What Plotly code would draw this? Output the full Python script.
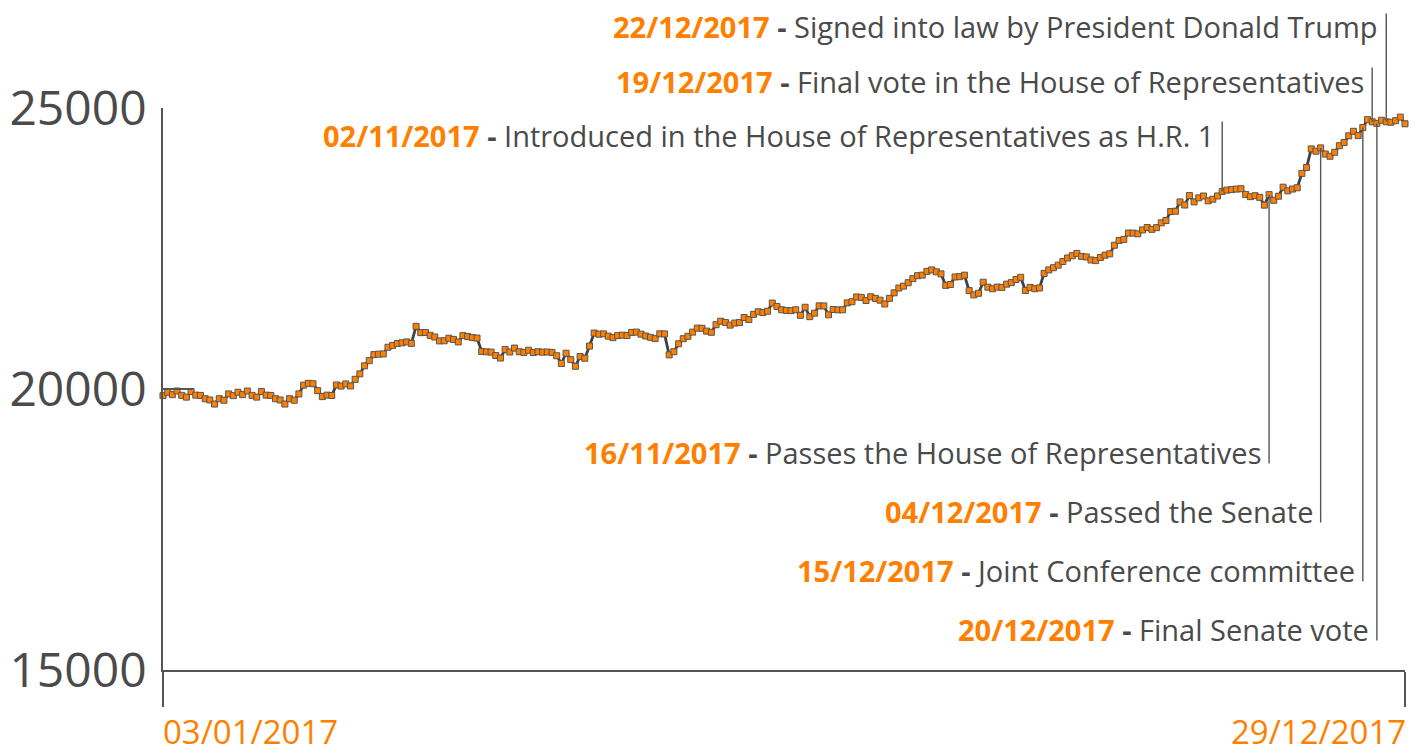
import plotly.graph_objects as go

# ---- data (series as plotted: the first 15 January sessions appear twice) ----
dates = (
    ["03/01/2017", "04/01/2017", "05/01/2017", "06/01/2017", "09/01/2017", "10/01/2017", "11/01/2017",
     "12/01/2017", "13/01/2017", "17/01/2017", "18/01/2017", "19/01/2017", "20/01/2017", "23/01/2017",
     "24/01/2017"] * 2
    + ["25/01/2017", "26/01/2017", "27/01/2017", "30/01/2017", "31/01/2017",
       "01/02/2017", "02/02/2017", "03/02/2017", "06/02/2017", "07/02/2017", "08/02/2017", "09/02/2017",
       "10/02/2017", "13/02/2017", "14/02/2017", "15/02/2017", "16/02/2017", "17/02/2017", "21/02/2017",
       "22/02/2017", "23/02/2017", "24/02/2017", "27/02/2017", "28/02/2017",
       "01/03/2017", "02/03/2017", "03/03/2017", "06/03/2017", "07/03/2017", "08/03/2017", "09/03/2017",
       "10/03/2017", "13/03/2017", "14/03/2017", "15/03/2017", "16/03/2017", "17/03/2017", "20/03/2017",
       "21/03/2017", "22/03/2017", "23/03/2017", "24/03/2017", "27/03/2017", "28/03/2017", "29/03/2017",
       "30/03/2017", "31/03/2017",
       "03/04/2017", "04/04/2017", "05/04/2017", "06/04/2017", "07/04/2017", "10/04/2017", "11/04/2017",
       "12/04/2017", "13/04/2017", "17/04/2017", "18/04/2017", "19/04/2017", "20/04/2017", "21/04/2017",
       "24/04/2017", "25/04/2017", "26/04/2017", "27/04/2017", "28/04/2017",
       "01/05/2017", "02/05/2017", "03/05/2017", "04/05/2017", "05/05/2017", "08/05/2017", "09/05/2017",
       "10/05/2017", "11/05/2017", "12/05/2017", "15/05/2017", "16/05/2017", "17/05/2017", "18/05/2017",
       "19/05/2017", "22/05/2017", "23/05/2017", "24/05/2017", "25/05/2017", "26/05/2017", "30/05/2017",
       "31/05/2017",
       "01/06/2017", "02/06/2017", "05/06/2017", "06/06/2017", "07/06/2017", "08/06/2017", "09/06/2017",
       "12/06/2017", "13/06/2017", "14/06/2017", "15/06/2017", "16/06/2017", "19/06/2017", "20/06/2017",
       "21/06/2017", "22/06/2017", "23/06/2017", "26/06/2017", "27/06/2017", "28/06/2017", "29/06/2017",
       "30/06/2017",
       "03/07/2017", "05/07/2017", "06/07/2017", "07/07/2017", "10/07/2017", "11/07/2017", "12/07/2017",
       "13/07/2017", "14/07/2017", "17/07/2017", "18/07/2017", "19/07/2017", "20/07/2017", "21/07/2017",
       "24/07/2017", "25/07/2017", "26/07/2017", "27/07/2017", "28/07/2017", "31/07/2017",
       "01/08/2017", "02/08/2017", "03/08/2017", "04/08/2017", "07/08/2017", "08/08/2017", "09/08/2017",
       "10/08/2017", "11/08/2017", "14/08/2017", "15/08/2017", "16/08/2017", "17/08/2017", "18/08/2017",
       "21/08/2017", "22/08/2017", "23/08/2017", "24/08/2017", "25/08/2017", "28/08/2017", "29/08/2017",
       "30/08/2017", "31/08/2017",
       "01/09/2017", "05/09/2017", "06/09/2017", "07/09/2017", "08/09/2017", "11/09/2017", "12/09/2017",
       "13/09/2017", "14/09/2017", "15/09/2017", "18/09/2017", "19/09/2017", "20/09/2017", "21/09/2017",
       "22/09/2017", "25/09/2017", "26/09/2017", "27/09/2017", "28/09/2017", "29/09/2017",
       "02/10/2017", "03/10/2017", "04/10/2017", "05/10/2017", "06/10/2017", "09/10/2017", "10/10/2017",
       "11/10/2017", "12/10/2017", "13/10/2017", "16/10/2017", "17/10/2017", "18/10/2017", "19/10/2017",
       "20/10/2017", "23/10/2017", "24/10/2017", "25/10/2017", "26/10/2017", "27/10/2017", "30/10/2017",
       "31/10/2017",
       "01/11/2017", "02/11/2017", "03/11/2017", "06/11/2017", "07/11/2017", "08/11/2017", "09/11/2017",
       "10/11/2017", "13/11/2017", "14/11/2017", "15/11/2017", "16/11/2017", "17/11/2017", "20/11/2017",
       "21/11/2017", "22/11/2017", "24/11/2017", "27/11/2017", "28/11/2017", "29/11/2017", "30/11/2017",
       "01/12/2017", "04/12/2017", "05/12/2017", "06/12/2017", "07/12/2017", "08/12/2017", "11/12/2017",
       "12/12/2017", "13/12/2017", "14/12/2017", "15/12/2017", "18/12/2017", "19/12/2017", "20/12/2017",
       "21/12/2017", "22/12/2017", "26/12/2017", "27/12/2017", "28/12/2017", "29/12/2017"]
)

closes = (
    [19881.76, 19942.16, 19899.29, 19963.80, 19887.38, 19855.53, 19954.28, 19891.00, 19885.73,
     19826.77, 19804.72, 19732.40, 19827.25, 19799.85, 19912.71] * 2
    + [20068.51, 20100.91, 20093.78, 19971.13, 19864.09,
       19890.94, 19884.91, 20071.46, 20052.42, 20090.29, 20054.34, 20172.40, 20269.37, 20412.16,
       20504.41, 20611.86, 20619.77, 20624.05, 20743.00, 20775.60, 20810.32, 20821.76, 20837.44,
       20812.24,
       21115.55, 21002.97, 21005.71, 20954.34, 20924.76, 20855.73, 20858.19, 20902.98, 20881.48,
       20837.37, 20950.10, 20934.55, 20914.62, 20905.86, 20668.01, 20661.30, 20656.58, 20596.72,
       20550.98, 20701.50, 20659.32, 20728.49, 20663.22,
       20650.21, 20689.24, 20648.15, 20662.95, 20656.10, 20658.02, 20651.30, 20591.86, 20453.25,
       20636.92, 20523.28, 20404.49, 20578.71, 20547.76, 20763.89, 20996.12, 20975.09, 20981.33,
       20940.51,
       20913.46, 20949.89, 20957.90, 20951.47, 21006.94, 21012.42, 20975.78, 20943.11, 20919.42,
       20896.61, 20981.94, 20979.75, 20606.93, 20663.02, 20804.84, 20894.83, 20937.91, 21012.28,
       21082.95, 21080.28, 21029.47, 21008.65,
       21144.18, 21206.29, 21184.04, 21136.23, 21173.69, 21182.53, 21271.97, 21235.67, 21328.47,
       21374.56, 21359.90, 21384.28, 21528.99, 21467.14, 21410.03, 21397.29, 21394.76, 21409.55,
       21310.66, 21454.61, 21287.03, 21349.63,
       21479.27, 21478.17, 21320.04, 21414.34, 21408.52, 21409.07, 21532.14, 21553.09, 21637.74,
       21629.72, 21574.73, 21640.75, 21611.78, 21580.07, 21513.17, 21613.43, 21711.01, 21796.55,
       21830.31, 21891.12,
       21963.92, 22016.24, 22026.10, 22092.81, 22118.42, 22085.34, 22048.70, 21844.01, 21858.32,
       21993.71, 21998.99, 22024.87, 21750.73, 21674.51, 21703.75, 21899.89, 21812.09, 21783.40,
       21813.67, 21808.40, 21865.37, 21892.43, 21948.10,
       21987.56, 21753.31, 21807.64, 21784.78, 21797.79, 22057.37, 22118.86, 22158.18, 22203.48,
       22268.34, 22331.35, 22370.80, 22412.59, 22359.23, 22349.59, 22296.09, 22284.32, 22340.71,
       22381.20, 22405.09,
       22557.60, 22641.67, 22661.64, 22775.39, 22773.67, 22761.07, 22830.68, 22872.89, 22841.01,
       22871.72, 22956.96, 22997.44, 23157.60, 23163.04, 23328.63, 23273.96, 23441.76, 23329.46,
       23400.86, 23434.19, 23348.74, 23377.24,
       23435.01, 23516.26, 23539.19, 23548.42, 23557.23, 23563.36, 23461.94, 23422.21, 23439.70,
       23409.47, 23271.28, 23458.36, 23358.24, 23430.33, 23590.83, 23526.18, 23557.99, 23580.78,
       23836.71, 23940.68, 24272.35,
       24231.59, 24290.05, 24180.64, 24140.91, 24211.48, 24329.16, 24386.03, 24504.80, 24585.43,
       24508.66, 24651.74, 24792.20, 24754.75, 24726.65, 24782.29, 24754.06, 24746.21, 24774.30,
       24837.51, 24719.22]
)

y_ticks = [15000, 20000, 25000]
x_tick_labels = ["03/01/2017", "29/12/2017"]

event_dates = ["22/12/2017", "19/12/2017", "02/11/2017", "16/11/2017", "04/12/2017", "15/12/2017",
               "20/12/2017"]
event_texts = ["Signed into law by President Donald Trump",
               "Final vote in the House of Representatives",
               "Introduced in the House of Representatives as H.R. 1",
               "Passes the House of Representatives",
               "Passed the Senate",
               "Joint Conference committee",
               "Final Senate vote"]

# ---- layout constants ----
ORANGE = "#FF7F00"
DARK = "#4a4a4a"
AXIS = "#555555"
FONT = "Open Sans"
W, H = 1421, 753
PLOT_TOP, PLOT_BOTTOM = 108, 670
PLOT_LEFT, PLOT_RIGHT = 163, 1405
L, R = PLOT_LEFT, W - PLOT_RIGHT
T, B = PLOT_TOP, H - PLOT_BOTTOM
Y0, Y1 = 15000, 25000

def px_to_val(p):
    # pixel row -> value on the y axis (used only for leader placement)
    return Y0 + (PLOT_BOTTOM - p) / (PLOT_BOTTOM - PLOT_TOP) * (Y1 - Y0)

def px_to_paper(p):
    return (PLOT_BOTTOM - p) / (PLOT_BOTTOM - PLOT_TOP)

# label centre row and leader end row (pixels) for each event
label_rows = [27, 81, 136, 452, 511, 570, 629]
leader_rows = [12, 66, 120, 465, 524, 583, 642]

x = list(range(len(closes)))

fig = go.Figure()
fig.add_trace(go.Scatter(
    x=x, y=closes, mode="lines+markers",
    line=dict(color="#404040", width=2.8),
    marker=dict(symbol="square", size=6, color=ORANGE, line=dict(color="#555555", width=1)),
    cliponaxis=False, hoverinfo="skip", showlegend=False,
))

annotations = []
for d, t, lr, er in zip(event_dates, event_texts, label_rows, leader_rows):
    i = len(dates) - 1 - dates[::-1].index(d)
    annotations.append(dict(
        x=i, y=closes[i], xref="x", yref="y",
        ax=i, ay=px_to_val(er), axref="x", ayref="y",
        text="", showarrow=True, arrowhead=0, arrowwidth=1.4, arrowcolor=AXIS,
        standoff=0, startstandoff=0,
    ))
    annotations.append(dict(
        x=i, y=px_to_paper(lr), xref="x", yref="paper",
        xanchor="right", yanchor="middle", xshift=-6, showarrow=False,
        text=f"<b><span style='color:{ORANGE}'>{d}</span> -</b> {t}",
        font=dict(family=FONT, size=29, color=DARK),
    ))

annotations.append(dict(x=0, y=px_to_paper(731), xref="x", yref="paper", xanchor="left",
                        yanchor="middle", showarrow=False, text=x_tick_labels[0], xshift=-1,
                        borderpad=0, font=dict(family=FONT, size=33, color=ORANGE)))
annotations.append(dict(x=len(closes) - 1, y=px_to_paper(731), xref="x", yref="paper",
                        xanchor="right", yanchor="middle", showarrow=False, text=x_tick_labels[1],
                        xshift=2, borderpad=0, font=dict(family=FONT, size=33, color=ORANGE)))

fig.update_layout(
    width=W, height=H,
    margin=dict(l=L, r=R, t=T, b=B, pad=0, autoexpand=False),
    paper_bgcolor="white", plot_bgcolor="white",
    annotations=annotations,
    xaxis=dict(range=[0, len(closes) - 1], tickvals=[0, len(closes) - 1], showticklabels=False,
               ticks="outside", ticklen=35, tickwidth=1.5, tickcolor=AXIS, automargin=False,
               showline=True, linecolor=AXIS, linewidth=1.5, showgrid=False, zeroline=False),
    yaxis=dict(range=[Y0, Y1], tickvals=y_ticks, ticktext=[str(v) for v in y_ticks],
               ticks="inside", ticklen=30, tickwidth=1.5, tickcolor=AXIS, automargin=False,
               showline=True, linecolor=AXIS, linewidth=1.5, showgrid=False, zeroline=False,
               tickfont=dict(family=FONT, size=48, color=DARK), ticklabelstandoff=5),
)

# remove the browser's default 8px page margin so the figure fills the window exactly
fig.write_html("out.html", config={"displayModeBar": False},
               post_script="document.body.style.margin='0';")
